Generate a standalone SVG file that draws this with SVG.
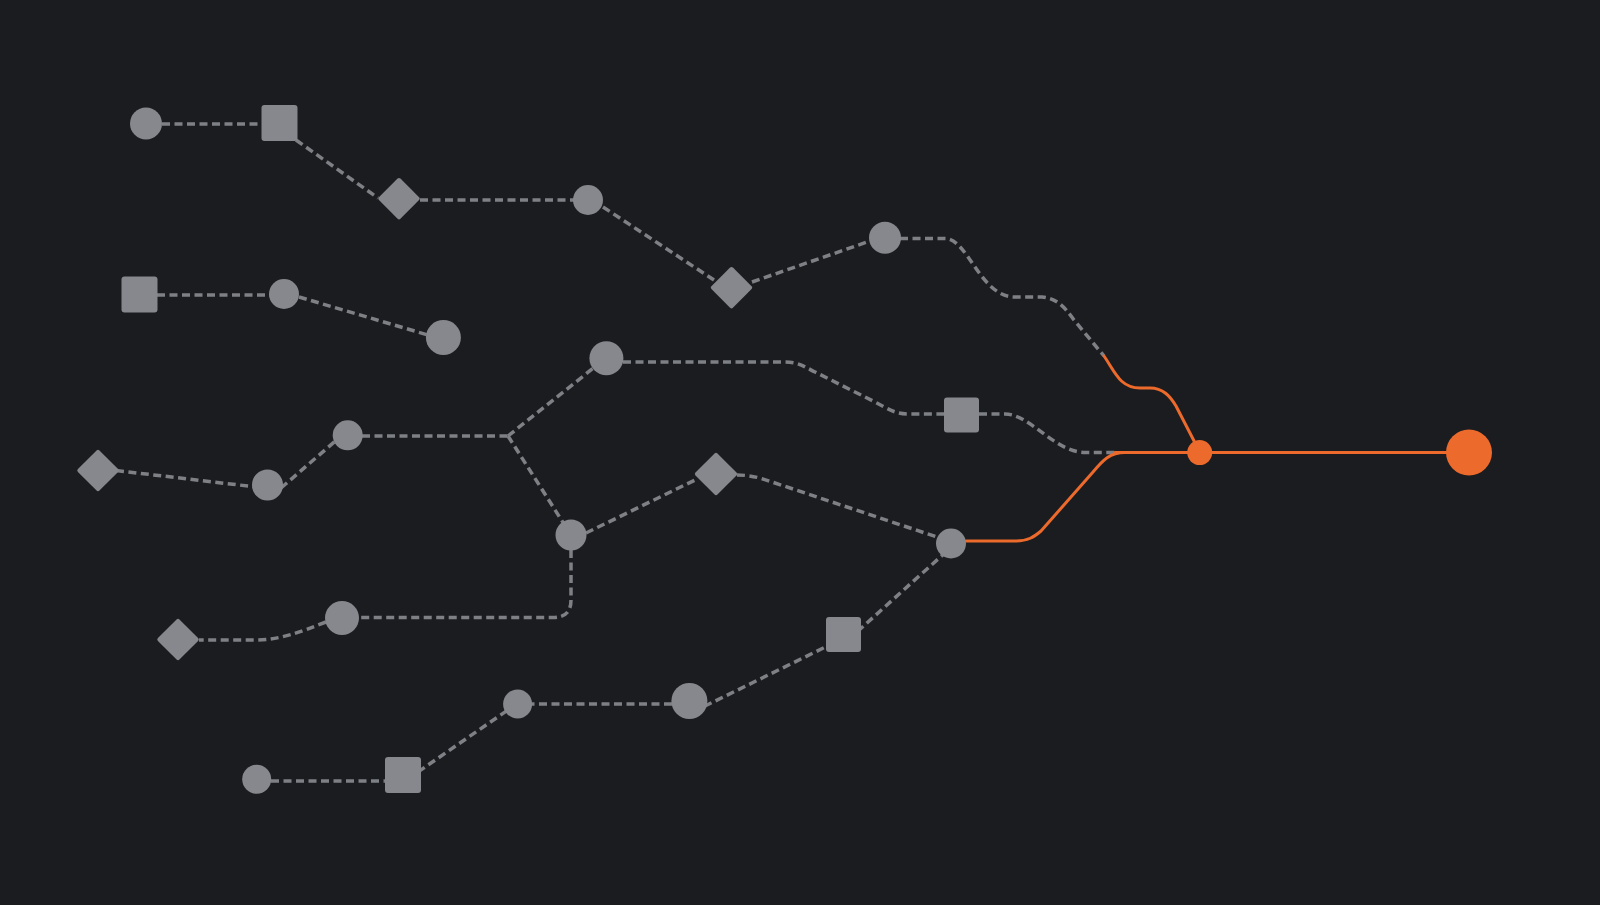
<svg xmlns="http://www.w3.org/2000/svg" width="1600" height="905" viewBox="0 0 1600 905">
<style>
.bg{fill:#1b1c20}
.n{fill:#86888d}
.o{fill:#ec6a2b}
.d{fill:none;stroke:#7e8085;stroke-width:3.5;stroke-dasharray:8 4.5}
.s{fill:none;stroke:#ec6a2b;stroke-width:3;stroke-linecap:round;stroke-linejoin:round}
</style>
<rect class="bg" x="0" y="0" width="1600" height="905"/>
<g id="connectors">
<path class="d" d="M162 124 H262"/>
<path class="d" d="M296 140 L378 198"/>
<path class="d" d="M420 200 H574"/>
<path class="d" d="M603 207 L714 280"/>
<path class="d" d="M752 282 L870 241"/>
<path class="d" d="M900 238.5 H945 C968 238.5 980 297 1015 297 H1042 C1056 298 1064 306 1074 320 L1104 356"/>
<path class="d" d="M623 362 H785 C798 362 805 367 815 372 L875 402 C890 410 895 414 910 414 H944"/>
<path class="d" d="M979 414 H1005 C1030 414 1055 452.5 1085 452.5 H1115"/>
<path class="d" d="M737 475 Q748 475 760 478 L940 538"/>
<path class="d" d="M586 533 L695 480"/>
<path class="d" d="M508 436 L571 535"/>
<path class="d" d="M508 436 L606 358"/>
<path class="d" d="M362 436 H508"/>
<path class="d" d="M281 488 L340 437"/>
<path class="d" d="M116 470.5 L256 487"/>
<path class="d" d="M299 297 L428 335"/>
<path class="d" d="M157 295 H270"/>
<path class="d" d="M571 550 V600 C571 612 565 617.5 553 617.5 H358"/>
<path class="d" d="M326 622 C300 632 280 640 255 640 H199"/>
<path class="d" d="M947 551 L858 631"/>
<path class="d" d="M835 642.3 L705 706"/>
<path class="d" d="M672 704 H532"/>
<path class="d" d="M507 710.6 L415 774"/>
<path class="d" d="M271 781 H386"/>
<path class="s" d="M1104 356 C1115 372 1120 388 1140 388 H1150 C1163 388 1170 396 1176 406 L1200 452.5"/>
<path class="s" d="M1115 452.5 H1469"/>
<path class="s" d="M966 541 H1015 C1028 541 1034 537 1041 531 L1093 472 C1103 460 1110 452.5 1125 452.5"/>
</g>
<g id="nA"><circle class="n" cx="146" cy="123.5" r="16"/></g>
<g id="nB"><rect class="n" x="261.5" y="105" width="36" height="36" rx="3"/></g>
<g id="nC"><rect class="n" x="-15.2" y="-15.2" width="30.4" height="30.4" rx="2" transform="translate(399 198.7) rotate(45)"/></g>
<g id="nD"><circle class="n" cx="588" cy="200" r="15"/></g>
<g id="nE"><rect class="n" x="-15.2" y="-15.2" width="30.4" height="30.4" rx="2" transform="translate(731.5 287.7) rotate(45)"/></g>
<g id="nF"><circle class="n" cx="885" cy="237.7" r="16"/></g>
<g id="nG"><rect class="n" x="121.5" y="276.5" width="36" height="36" rx="3"/></g>
<g id="nH"><circle class="n" cx="284" cy="294" r="15"/></g>
<g id="nI"><circle class="n" cx="443.4" cy="337.5" r="17.5"/></g>
<g id="nJ"><circle class="n" cx="606.4" cy="358.3" r="17"/></g>
<g id="nK"><circle class="n" cx="347.7" cy="435.3" r="15"/></g>
<g id="nL"><rect class="n" x="-15.2" y="-15.2" width="30.4" height="30.4" rx="2" transform="translate(98 470.5) rotate(45)"/></g>
<g id="nN"><circle class="n" cx="267.5" cy="485" r="15.5"/></g>
<g id="nM"><circle class="n" cx="571" cy="535" r="15.5"/></g>
<g id="nO"><rect class="n" x="-15.5" y="-15.5" width="31" height="31" rx="2" transform="translate(716 474) rotate(45)"/></g>
<g id="nP"><circle class="n" cx="951" cy="543.5" r="15"/></g>
<g id="nQ"><rect class="n" x="944" y="397.5" width="35" height="35" rx="3"/></g>
<g id="nR"><circle class="o" cx="1199.7" cy="452.6" r="12.5"/></g>
<g id="nS"><circle class="o" cx="1469" cy="452.5" r="23"/></g>
<g id="nT"><rect class="n" x="-15.2" y="-15.2" width="30.4" height="30.4" rx="2" transform="translate(178 639.5) rotate(45)"/></g>
<g id="nU"><circle class="n" cx="342" cy="618" r="17"/></g>
<g id="nV"><rect class="n" x="826" y="617" width="35" height="35" rx="3"/></g>
<g id="nW"><circle class="n" cx="517.6" cy="704" r="14.5"/></g>
<g id="nX"><circle class="n" cx="689.4" cy="701" r="18"/></g>
<g id="nY"><circle class="n" cx="256.7" cy="779.3" r="14.5"/></g>
<g id="nZ"><rect class="n" x="385" y="757" width="36" height="36" rx="3"/></g>
</svg>
